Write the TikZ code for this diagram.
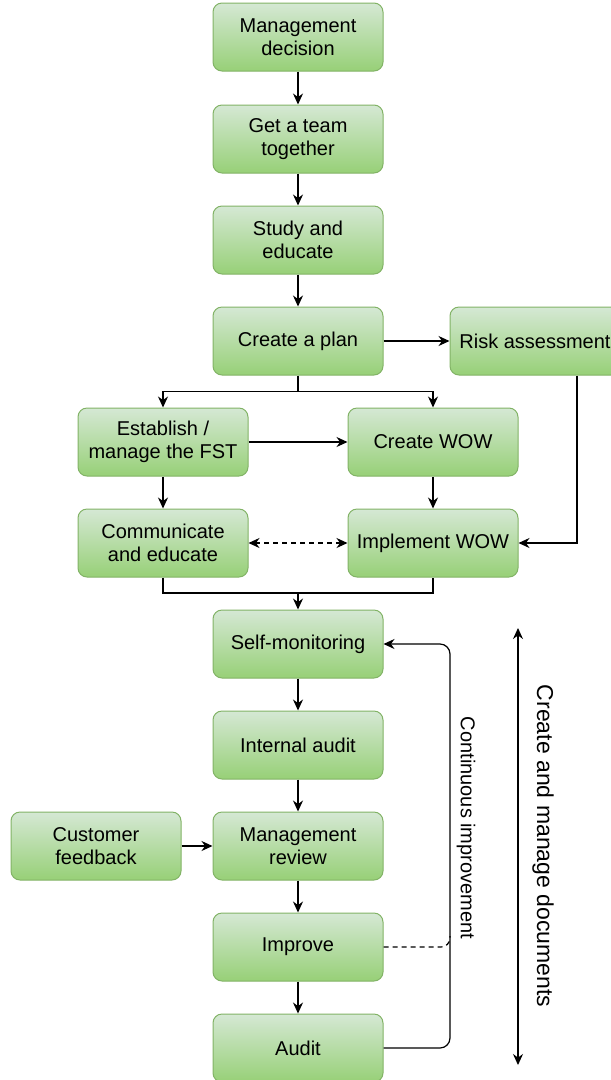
\documentclass[tikz,border=0pt]{standalone}
\usepackage{fontspec}
\setmainfont{Liberation Sans}
\usetikzlibrary{arrows.meta,calc}
\definecolor{gtop}{HTML}{D5E8D4}
\definecolor{gbot}{HTML}{97D077}
\definecolor{gborder}{HTML}{82B366}
\begin{document}
\begin{tikzpicture}[x=1pt,y=-1pt,
  box/.style={draw=gborder, line width=1pt, rounded corners=9pt, top color=gtop, bottom color=gbot,
    minimum width=170pt, minimum height=68pt, align=center, inner sep=2pt,
    font=\fontsize{20}{23}\selectfont},
  arr/.style={line width=1.2pt, -{Stealth[length=11pt,width=10pt]}},
  ln/.style={line width=1.2pt}]
\useasboundingbox (0,0) rectangle (611,1080);
\clip (0,0) rectangle (611,1080);
\node[box] (md) at (298,37) {Management\\decision};
\node[box] (team) at (298,139) {Get a team\\together};
\node[box] (study) at (298,240) {Study and\\educate};
\node[box] (plan) at (298,341) {Create a plan};
\node[box] (risk) at (535,341) {Risk assessment};
\node[box] (estab) at (163,442) {Establish /\\manage the FST};
\node[box] (cwow) at (433,442) {Create WOW};
\node[box] (comm) at (163,543) {Communicate\\and educate};
\node[box] (iwow) at (433,543) {Implement WOW};
\node[box] (self) at (298,644) {Self-monitoring};
\node[box] (iaudit) at (298,745) {Internal audit};
\node[box] (mrev) at (298,846) {Management\\review};
\node[box] (cust) at (96,846) {Customer\\feedback};
\node[box] (impr) at (298,947) {Improve};
\node[box] (audit) at (298,1048) {Audit};

\draw[arr] (md) -- (team);
\draw[arr] (team) -- (study);
\draw[arr] (study) -- (plan);
\draw[arr] (plan) -- (risk);
\draw[ln] (plan.south) -- ++(0,16) coordinate (split);
\draw[arr] (split) -| (estab.north);
\draw[arr] (split) -| (cwow.north);
\draw[arr] (estab) -- (cwow);
\draw[arr] (estab) -- (comm);
\draw[arr] (cwow) -- (iwow);
\draw[line width=1.2pt, dashed, dash pattern=on 5pt off 4pt, {Stealth[length=11pt,width=10pt]}-{Stealth[length=11pt,width=10pt]}] (comm) -- (iwow);
\draw[arr] ([xshift=42pt]risk.south) |- (iwow.east);
\coordinate (merge) at (298,593);
\draw[ln] (comm.south) |- (merge) -| (iwow.south);
\draw[arr] (merge) -- (self);
\draw[arr] (self) -- (iaudit);
\draw[arr] (iaudit) -- (mrev);
\draw[arr] (cust) -- (mrev);
\draw[arr] (mrev) -- (impr);
\draw[arr] (impr) -- (audit);
\coordinate (loop) at (450,846);
\draw[arr, rounded corners=10pt] (audit.east) -| (loop) |- (self.east);
\coordinate (loopi) at (450,936);
\draw[ln, dashed, dash pattern=on 5pt off 4pt, rounded corners=9pt] (impr.east) -| (loopi);
\node[rotate=-90, font=\fontsize{20}{23}\selectfont] (ci) at (466,828) {Continuous improvement};
\coordinate (dtop) at (518,628);
\coordinate (dbot) at (518,1065);
\draw[line width=1.2pt, {Stealth[length=11pt,width=10pt]}-{Stealth[length=11pt,width=10pt]}] (dtop) -- (dbot);
\node[rotate=-90, font=\fontsize{23}{27}\selectfont] (docs) at (543,846) {Create and manage documents};
\end{tikzpicture}
\end{document}
